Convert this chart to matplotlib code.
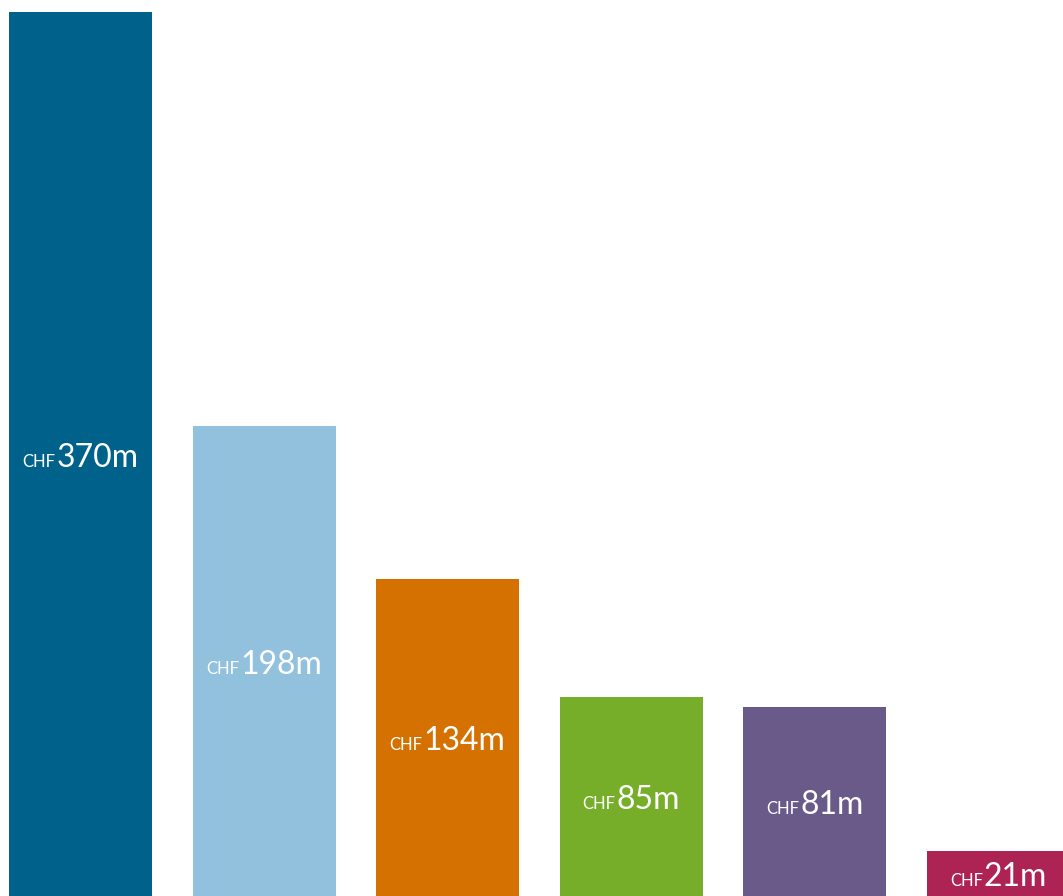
import matplotlib.pyplot as plt
from matplotlib.transforms import offset_copy

# values (CHF millions)
values = [370, 198, 134, 85, 81, 21]
labels = ["370m", "198m", "134m", "85m", "81m", "21m"]
colors = ["#00628B", "#92C1DD", "#D47100", "#76AE2A", "#6A5A8A", "#AD2353"]

plt.rcParams['font.family'] = ['Lato', 'DejaVu Sans']

fig = plt.figure(figsize=(10.63, 8.96), dpi=100)
ax = fig.add_axes([0, 0, 1, 1])
x = list(range(len(values)))
ax.bar(x, values, width=0.779, color=colors)
ax.set_xlim(-0.438, 5.351)
ax.set_ylim(2.3, 375.0)
ax.axis('off')

fig.canvas.draw()
renderer = fig.canvas.get_renderer()

for xi, v, lab in zip(x, values, labels):
    # small "CHF" then the big number, sharing a baseline, centred on the bar
    big = ax.text(xi, v / 2, lab, color='white', fontsize=23, va='baseline', ha='left')
    small = ax.text(xi, v / 2, "CHF", color='white', fontsize=12, va='baseline', ha='left')
    wb = big.get_window_extent(renderer).width
    ws = small.get_window_extent(renderer).width
    total = ws + 1 + wb
    # pixel offsets -> points (dpi 100)
    small.set_transform(offset_copy(ax.transData, fig=fig, x=(-total / 2) * 0.72,
                                    y=-10 * 0.72, units='points'))
    big.set_transform(offset_copy(ax.transData, fig=fig, x=(-total / 2 + ws + 1) * 0.72,
                                  y=-10 * 0.72, units='points'))

fig.savefig("out.png", dpi=100)
